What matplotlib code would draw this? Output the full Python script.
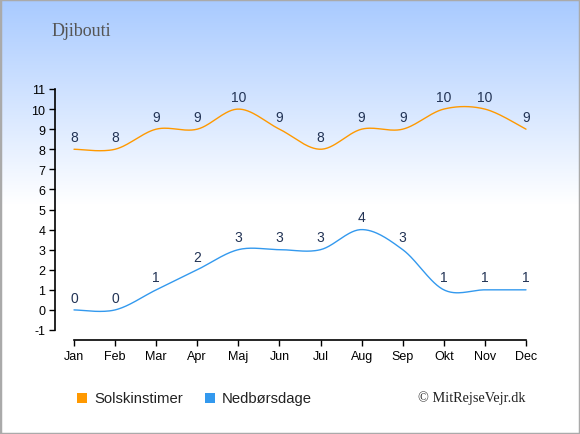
import numpy as np
import matplotlib
matplotlib.use("Agg")
import matplotlib.pyplot as plt
from matplotlib.patches import Rectangle

months = ["Jan", "Feb", "Mar", "Apr", "Maj", "Jun", "Jul", "Aug", "Sep", "Okt", "Nov", "Dec"]
sun_hours = [8, 8, 9, 9, 10, 9, 8, 9, 9, 10, 10, 9]
rain_days = [0, 0, 1, 2, 3, 3, 3, 4, 3, 1, 1, 1]
yticks = list(range(-1, 12))
title = "Djibouti"
sun_label = "Solskinstimer"
rain_label = "Nedbørsdage"
credit = "© MitRejseVejr.dk"

sun_color = "#FF9900"
rain_color = "#3399EE"
text_color = "#223355"

W, H = 580, 435
fig = plt.figure(figsize=(W / 100, H / 100), dpi=100)

# background gradient
bg = fig.add_axes([0, 0, 1, 1], zorder=-10)
bg.set_axis_off()
rows = np.linspace(0, 1, H)
top = np.array([168, 202, 255]) / 255.0
white = np.ones(3)
frac = np.clip(rows / (205 / H), 0, 1)[:, None]
grad = top * (1 - frac) + white * frac
img = np.repeat(grad[:, None, :], W, axis=1)
bg.imshow(img, aspect="auto", extent=[0, 1, 0, 1], origin="upper")
bg.set_xlim(0, 1)
bg.set_ylim(0, 1)
bg.add_patch(Rectangle((0, 0), 1, 1, fill=False, edgecolor="#AAAAAA", linewidth=2.5,
                       transform=bg.transAxes))


def catmull(xs, ys, n=30):
    xs = np.asarray(xs, float)
    ys = np.asarray(ys, float)
    px = np.concatenate([[xs[0]], xs, [xs[-1]]])
    py = np.concatenate([[ys[0]], ys, [ys[-1]]])
    ox, oy = [], []
    for i in range(1, len(px) - 2):
        t = np.linspace(0, 1, n, endpoint=False)
        for arr, out in ((px, ox), (py, oy)):
            p0, p1, p2, p3 = arr[i - 1], arr[i], arr[i + 1], arr[i + 2]
            out.extend(0.5 * ((2 * p1) + (-p0 + p2) * t + (2 * p0 - 5 * p1 + 4 * p2 - p3) * t ** 2
                              + (-p0 + 3 * p1 - 3 * p2 + p3) * t ** 3))
    ox.append(xs[-1])
    oy.append(ys[-1])
    return np.array(ox), np.array(oy)


left_px, right_px, top_px, bot_px = 55, 532, 90, 341
ax = fig.add_axes([left_px / W, (H - bot_px) / H, (right_px - left_px) / W, (bot_px - top_px) / H])
ax.patch.set_alpha(0)
unit_y = (331 - 90) / 12
ymin = -1 - (bot_px - 331) / unit_y
unit_x = (526 - 74) / 11
ax.set_ylim(ymin, 11)
ax.set_xlim(-(74 - left_px) / unit_x, 11 + (right_px - 526) / unit_x)

x = np.arange(len(months))
for vals, col in ((sun_hours, sun_color), (rain_days, rain_color)):
    sx, sy = catmull(x, vals)
    ax.plot(sx, sy, color=col, linewidth=1.0, solid_capstyle="round")
    for xi, v in zip(x, vals):
        ax.annotate(str(v), (xi, v), xytext=(0, 6), textcoords="offset points",
                    ha="center", va="baseline", fontsize=10, color=text_color,
                    family="Liberation Sans")

for s in ("top", "right"):
    ax.spines[s].set_visible(False)
ax.spines["left"].set_bounds(-1, 11)
ax.spines["bottom"].set_bounds(0, 11)
ax.spines["left"].set_linewidth(1.2)
ax.spines["bottom"].set_linewidth(1.2)
ax.set_yticks(yticks)
ax.set_yticklabels([str(t) for t in yticks])
ax.set_xticks(x)
ax.set_xticklabels(months)
ax.tick_params(axis="both", length=4, width=1, labelsize=9, colors="black", pad=3)
for lab in ax.get_xticklabels() + ax.get_yticklabels():
    lab.set_family("Liberation Sans")

# title
fig.text(52 / W, 1 - 32 / H, title, fontsize=13, family="Liberation Serif", color="#555555",
         ha="left", va="center")

# legend
def square(xp, yp, col):
    fig.patches.append(Rectangle((xp / W, 1 - (yp + 10) / H), 10 / W, 10 / H, facecolor=col,
                                 edgecolor="none", transform=fig.transFigure, figure=fig))

square(77, 394, sun_color)
fig.text(94 / W, 1 - 399 / H, sun_label, fontsize=10.7, family="Liberation Sans",
         color="#222222", ha="left", va="center")
square(205, 394, rain_color)
fig.text(222 / W, 1 - 399 / H, rain_label, fontsize=10.7, family="Liberation Sans",
         color="#222222", ha="left", va="center")
fig.text(526 / W, 1 - 398 / H, credit, fontsize=10.3, family="Liberation Serif",
         color="#222222", ha="right", va="center")

fig.savefig("out.png", dpi=100)
